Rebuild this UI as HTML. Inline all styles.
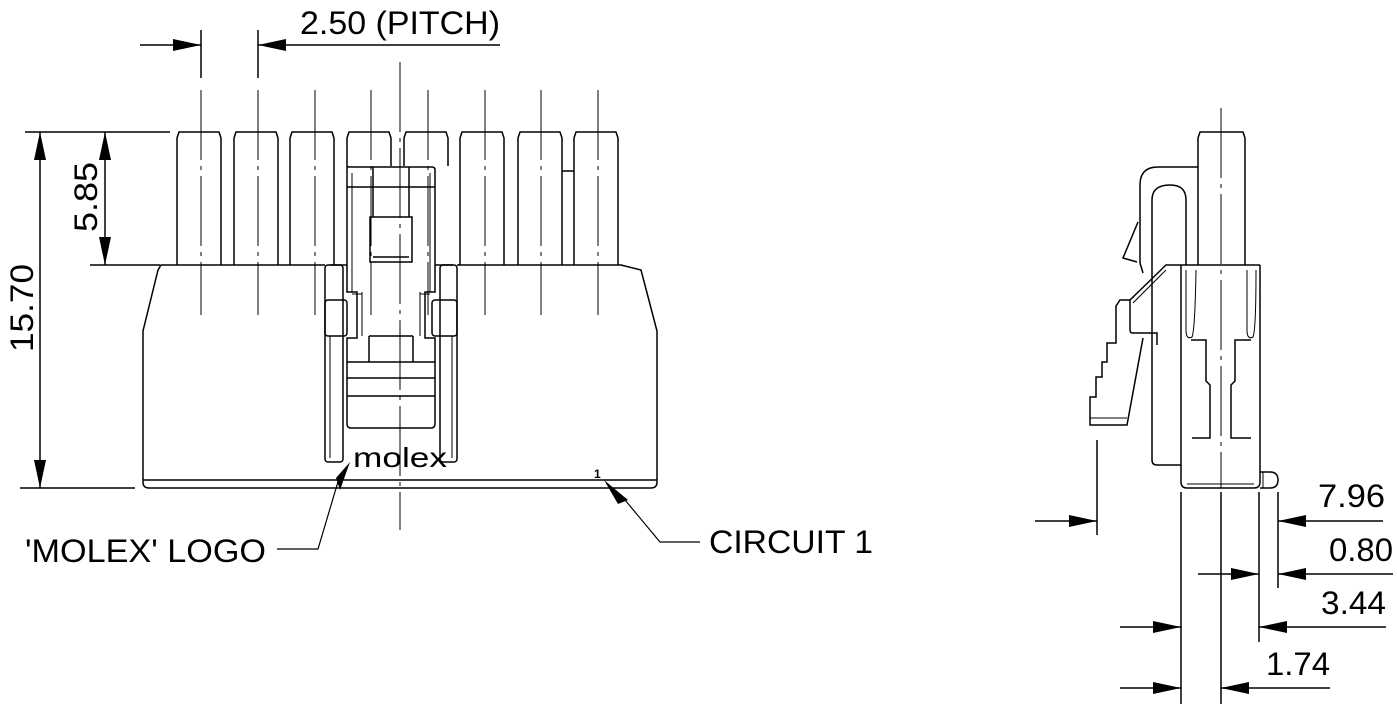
<!DOCTYPE html>
<html><head><meta charset="utf-8"><style>
html,body{margin:0;padding:0;background:#fff;width:1397px;height:710px;overflow:hidden}
text{font-family:"Liberation Sans",Arial,sans-serif;fill:#000}
</style></head><body>
<svg width="1397" height="710" viewBox="0 0 1397 710" xmlns="http://www.w3.org/2000/svg">
<defs>
<marker id="a" viewBox="0 0 28 12" refX="28" refY="6" markerWidth="28" markerHeight="12" markerUnits="userSpaceOnUse" orient="auto"><path d="M0,0 L28,6 L0,12 Z" fill="#000"/></marker>
</defs>
<g stroke="#000" stroke-width="1.5" fill="none">
<g stroke-width="1" stroke-dasharray="70,6,4,6">
<line x1="201" y1="90" x2="201" y2="315"/><line x1="258" y1="90" x2="258" y2="315"/>
<line x1="315" y1="90" x2="315" y2="315"/><line x1="371" y1="90" x2="371" y2="315"/>
<line x1="428" y1="90" x2="428" y2="315"/><line x1="485" y1="90" x2="485" y2="315"/>
<line x1="541" y1="90" x2="541" y2="315"/><line x1="598" y1="90" x2="598" y2="315"/>
<line x1="400" y1="62" x2="400" y2="530"/>
<line x1="1221" y1="108" x2="1221" y2="488"/>
</g>
<line x1="201" y1="30" x2="201" y2="78"/><line x1="258" y1="30" x2="258" y2="78"/>
<path d="M177,265 V138 L179,132 H219 L221,138 V265"/>
<path d="M234,265 V138 L236,132 H276 L278,138 V265"/>
<path d="M290,265 V138 L292,132 H332 L334,138 V265"/>
<path d="M347,166 V138 L349,132 H389 L391,138 V166"/>
<path d="M404,166 V138 L406,132 H446 L448,138 V166"/>
<path d="M460,265 V138 L462,132 H502 L504,138 V265"/>
<path d="M518,265 V138 L520,132 H560 L562,138 V265"/>
<path d="M574,265 V138 L576,132 H616 L618,138 V265"/>
<line x1="562" y1="171" x2="574" y2="171"/>
<path d="M325,265 H161 L158,270 L143,331 V482 Q143,488 149,488 H651 Q657,488 657,482 V331 L641,270 L621,265 H457"/>
<line x1="143" y1="480" x2="657" y2="480"/>
<path d="M330,265 H347 M453,265 H435"/>
<rect x="325" y="265" width="18" height="197" rx="3"/>
<rect x="440" y="265" width="17" height="197" rx="3"/>
<path d="M330,336 V458 M452,336 V458" stroke-width="1"/>
<rect x="325" y="300" width="22" height="36" rx="3"/>
<rect x="432" y="300" width="25" height="36" rx="3"/>
<path d="M347,166 Q347,167 350,167 H432 Q435,167 435,170 V292 H425 V338 H435 V424 Q435,428 431,428 H351 Q347,428 347,424 V338 H357 V292 H347 Z"/>
<line x1="347" y1="187" x2="435" y2="187"/>
<line x1="373" y1="167" x2="373" y2="217"/><line x1="409" y1="167" x2="409" y2="217"/>
<rect x="370" y="217" width="42" height="45"/>
<line x1="373" y1="257" x2="409" y2="257"/>
<path d="M352,173 V292 M430,173 V292" stroke-width="1"/>
<path d="M362,292 V336 M420,292 V336 M352,294 H362 M420,294 H430" stroke-width="1"/>
<line x1="369" y1="336" x2="369" y2="362"/><line x1="413" y1="336" x2="413" y2="362"/>
<line x1="369" y1="336" x2="413" y2="336"/>
<line x1="347" y1="362" x2="435" y2="362"/>
<line x1="347" y1="378" x2="435" y2="378"/>
<line x1="347" y1="396" x2="435" y2="396"/>
<path d="M277,549 H318 L340,475" stroke-width="1.2"/>
<path d="M350,462 L340,490 L336,478 Z" fill="#000" stroke="none"/>
<path d="M700,542 H660 L625,500" stroke-width="1.2"/>
<path d="M604,480 L628,500 L618,504 Z" fill="#000" stroke="none"/>
<line x1="140" y1="45" x2="201" y2="45" marker-end="url(#a)"/>
<line x1="500" y1="45" x2="258" y2="45" marker-end="url(#a)"/>
<line x1="25" y1="132" x2="170" y2="132"/>
<line x1="20" y1="488" x2="135" y2="488"/>
<line x1="90" y1="265" x2="160" y2="265"/>
<line x1="40" y1="310" x2="40" y2="132" marker-end="url(#a)"/>
<line x1="40" y1="310" x2="40" y2="488" marker-end="url(#a)"/>
<line x1="105" y1="200" x2="105" y2="132" marker-end="url(#a)"/>
<line x1="105" y1="200" x2="105" y2="265" marker-end="url(#a)"/>
<path d="M1198,265 V138 L1200,132 H1243 L1245,138 V265"/>
<path d="M1198,167 H1158 Q1140,167 1140,185 V263"/>
<path d="M1186,265 V200 Q1186,185 1170,185 Q1152,185 1152,200 V460 Q1152,465 1157,465 H1181"/>
<path d="M1138,222 L1123,258 L1137,262"/>
<path d="M1140,263 L1143,273"/>
<path d="M1260,265 H1166 L1130,300 V330 Q1130,333 1133,333 H1157 V345"/>
<path d="M1133,303 L1166,270" stroke-width="1"/>
<path d="M1130,300 L1120,300 L1116,306 V343 H1107 V362 H1102 V377 H1096 V397 H1090 V425 H1127 L1143,338"/>
<line x1="1090" y1="418" x2="1127" y2="418" stroke-width="1"/>
<path d="M1181,265 V482 Q1181,488 1187,488 H1254 Q1260,488 1260,482 V265"/>
<line x1="1187" y1="484" x2="1254" y2="484" stroke-width="1"/>
<path d="M1186,270 V330 Q1186,340 1192,337 Q1195,330 1196,270" stroke-width="1"/>
<path d="M1247,270 V330 Q1247,340 1253,337 Q1256,330 1256,270" stroke-width="1"/>
<path d="M1191,340 H1206 V381 L1210,385 V438 H1192"/>
<path d="M1251,340 H1235 V381 L1231,385 V438 H1251"/>
<path d="M1260,472 H1270 Q1278,472 1278,480 Q1278,488 1270,488 H1260"/>
<line x1="1263" y1="472" x2="1263" y2="488" stroke-width="1"/>
<line x1="1097" y1="440" x2="1097" y2="535"/>
<line x1="1181" y1="492" x2="1181" y2="704"/>
<line x1="1221" y1="492" x2="1221" y2="704"/>
<line x1="1259" y1="492" x2="1259" y2="642"/>
<line x1="1278" y1="492" x2="1278" y2="588"/>
<line x1="1035" y1="521" x2="1097" y2="521" marker-end="url(#a)"/>
<line x1="1383" y1="521" x2="1278" y2="521" marker-end="url(#a)"/>
<line x1="1198" y1="574" x2="1259" y2="574" marker-end="url(#a)"/>
<line x1="1393" y1="574" x2="1278" y2="574" marker-end="url(#a)"/>
<line x1="1120" y1="627" x2="1181" y2="627" marker-end="url(#a)"/>
<line x1="1386" y1="627" x2="1259" y2="627" marker-end="url(#a)"/>
<line x1="1120" y1="688" x2="1181" y2="688" marker-end="url(#a)"/>
<line x1="1330" y1="688" x2="1221" y2="688" marker-end="url(#a)"/>
</g>
<text x="300" y="34" font-size="32" textLength="200" lengthAdjust="spacingAndGlyphs">2.50 (PITCH)</text>
<text transform="translate(33,308) rotate(-90)" font-size="32" text-anchor="middle" textLength="88" lengthAdjust="spacingAndGlyphs">15.70</text>
<text transform="translate(97,197) rotate(-90)" font-size="32" text-anchor="middle" textLength="70" lengthAdjust="spacingAndGlyphs">5.85</text>
<text x="353" y="467" font-size="28" textLength="94" lengthAdjust="spacingAndGlyphs">molex</text>
<text x="594" y="478" font-size="12" font-weight="bold">1</text>
<text x="25" y="562" font-size="32" textLength="241" lengthAdjust="spacingAndGlyphs">'MOLEX' LOGO</text>
<text x="709" y="553" font-size="32" textLength="164" lengthAdjust="spacingAndGlyphs">CIRCUIT 1</text>
<text x="1318" y="507" font-size="32" textLength="67" lengthAdjust="spacingAndGlyphs">7.96</text>
<text x="1329" y="561" font-size="32" textLength="64" lengthAdjust="spacingAndGlyphs">0.80</text>
<text x="1321" y="614" font-size="32" textLength="65" lengthAdjust="spacingAndGlyphs">3.44</text>
<text x="1266" y="675" font-size="32" textLength="64" lengthAdjust="spacingAndGlyphs">1.74</text>
</svg>
</body></html>
